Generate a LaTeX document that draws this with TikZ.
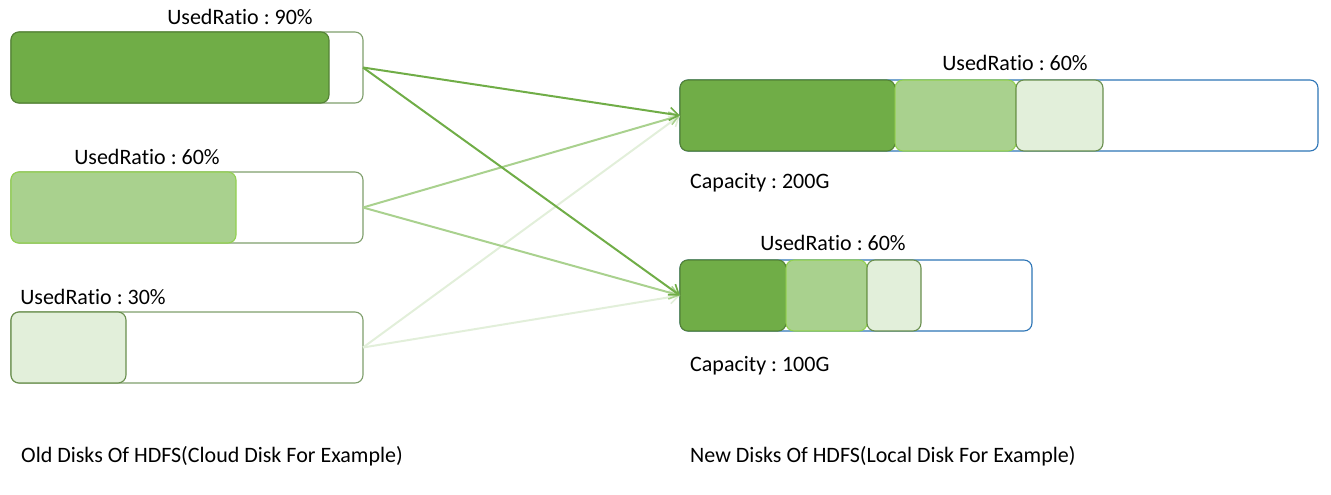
\documentclass[tikz,border=0pt]{standalone}
\usepackage{fontspec}
\setmainfont{Carlito}[Ligatures={NoCommon,NoRare,NoDiscretionary}]
\frenchspacing
\usetikzlibrary{arrows.meta}
\definecolor{dg}{HTML}{70AD47}
\definecolor{dgb}{HTML}{548235}
\definecolor{lg}{HTML}{A9D18E}
\definecolor{lgb}{HTML}{92D050}
\definecolor{vg}{HTML}{E2EFDA}
\definecolor{vgb}{HTML}{6A8F4E}
\definecolor{oldb}{HTML}{7F9F6C}
\definecolor{newb}{HTML}{2E75B6}
\tikzset{
  disk/.style={rounded corners=8pt, minimum height=71pt, inner sep=0pt, outer sep=0pt, anchor=north west, line width=1.1pt},
  olddisk/.style={disk, draw=oldb, fill=white},
  newdisk/.style={disk, draw=newb, fill=white},
  segd/.style={disk, fill=dg, draw=dgb},
  segl/.style={disk, fill=lg, draw=lgb},
  segv/.style={disk, fill=vg, draw=vgb},
  lbl/.style={font=\fontsize{22}{26}\selectfont\frenchspacing, inner sep=0pt, text=black},
  arr/.style={line width=2pt, -{Straight Barb[length=9pt,width=13pt,line width=1.6pt]}}
}
\begin{document}
\begin{tikzpicture}[x=1pt,y=-1pt]
\useasboundingbox (0,0) rectangle (1331,495);
% old disks
\node[olddisk, minimum width=352pt] (o1) at (11,32) {};
\node[segd, minimum width=318pt] (o1f) at (11,32) {};
\node[olddisk, minimum width=352pt] (o2) at (11,172) {};
\node[segl, minimum width=225pt] (o2f) at (11,172) {};
\node[olddisk, minimum width=352pt] (o3) at (11,312) {};
\node[segv, minimum width=115pt] (o3f) at (11,312) {};
% new disks
\node[newdisk, minimum width=638pt] (n1) at (680,80) {};
\node[segd, minimum width=215pt] (n1a) at (680,80) {};
\node[segl, minimum width=121pt] (n1b) at (895,80) {};
\node[segv, minimum width=87pt] (n1c) at (1016,80) {};
\node[newdisk, minimum width=352pt] (n2) at (680,260) {};
\node[segd, minimum width=106pt] (n2a) at (680,260) {};
\node[segl, minimum width=81pt] (n2b) at (786,260) {};
\node[segv, minimum width=54pt] (n2c) at (867,260) {};
% labels
\node[lbl] (l1) at (240,17) {UsedRatio : 90\%};
\node[lbl] (l2) at (147,157) {UsedRatio : 60\%};
\node[lbl] (l3) at (93,297) {UsedRatio : 30\%};
\node[lbl] (l4) at (1015,63) {UsedRatio : 60\%};
\node[lbl] (l5) at (833,243) {UsedRatio : 60\%};
\node[lbl, anchor=west] (c1) at (690,183) {Capacity : 200G};
\node[lbl, anchor=west] (c2) at (690,366) {Capacity : 100G};
\node[lbl, anchor=west] (b1) at (21,456) {Old Disks Of HDFS(Cloud Disk For Example)};
\node[lbl, anchor=west] (b2) at (690,456) {New Disks Of HDFS(Local Disk For Example)};
% arrows
\draw[arr, vg] (o3.east) -- (n1.west);
\draw[arr, vg] (o3.east) -- (n2.west);
\draw[arr, lg] (o2.east) -- (n1.west);
\draw[arr, lg] (o2.east) -- (n2.west);
\draw[arr, dg] (o1.east) -- (n1.west);
\draw[arr, dg] (o1.east) -- (n2.west);
\end{tikzpicture}
\end{document}
